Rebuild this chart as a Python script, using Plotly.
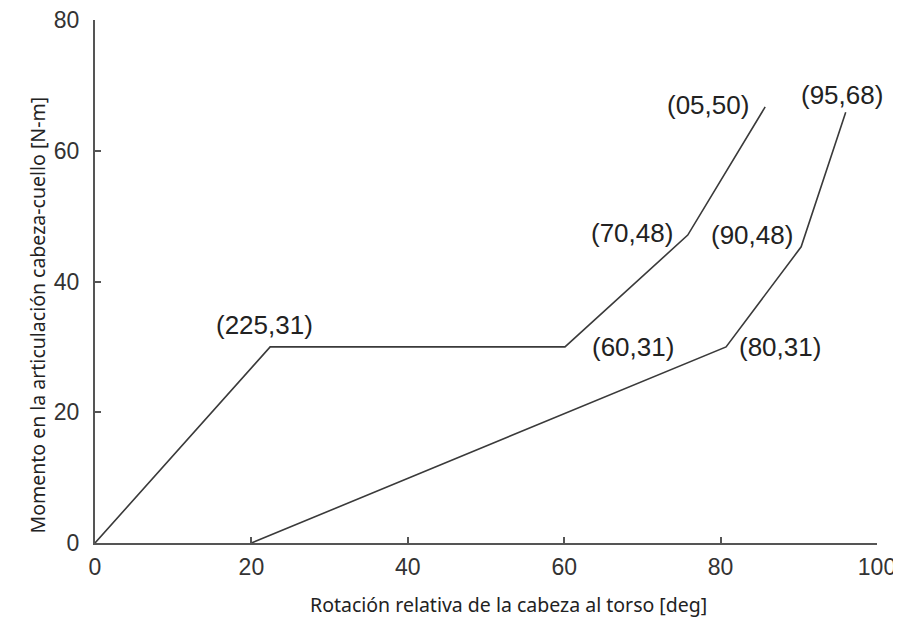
import plotly.graph_objects as go

# Curve A (upper/left)
rot_a = [0, 22.4, 60.1, 75.8, 85.7]
mom_a = [0, 30.0, 30.0, 47.1, 66.7]
# Curve B (lower/right)
rot_b = [20, 80.7, 90.3, 96.0]
mom_b = [0, 30.0, 45.3, 65.9]

# Point labels
lab_text = ["(225,31)", "(05,50)", "(95,68)", "(70,48)", "(90,48)", "(60,31)", "(80,31)"]
lab_x = [21.7, 78.4, 95.5, 68.7, 84.0, 68.8, 87.6]
lab_y = [33.3, 67.0, 68.5, 47.4, 47.1, 30.0, 30.0]

x_ticks = [0, 20, 40, 60, 80, 100]
y_ticks = [0, 20, 40, 60, 80]

line_col = "#3a3a3a"
num_font = "Liberation Sans, Arial, sans-serif"
title_font = "Noto Sans, DejaVu Sans"

fig = go.Figure()
fig.add_trace(go.Scatter(x=rot_a, y=mom_a, mode="lines",
                         line=dict(color=line_col, width=1.6), showlegend=False))
fig.add_trace(go.Scatter(x=rot_b, y=mom_b, mode="lines",
                         line=dict(color=line_col, width=1.6), showlegend=False))

for t, x, y in zip(lab_text, lab_x, lab_y):
    fig.add_annotation(x=x, y=y, text=t, showarrow=False,
                       font=dict(family=num_font, size=26, color="#222"))

fig.add_annotation(xref="paper", yref="paper", x=0.529, y=-0.1185, yanchor="middle",
                   text="Rotación relativa de la cabeza al torso [deg]",
                   showarrow=False,
                   font=dict(family=title_font, size=19.5, color="#222"))
fig.add_annotation(xref="paper", yref="paper", x=-0.0933, y=0.436, textangle=-90,
                   text="Momento en la articulación cabeza-cuello [N-m]",
                   showarrow=False,
                   font=dict(family=title_font, size=19.5, color="#222"))

# The page body has an 8px default margin, so the figure is offset by 8px
fig.update_layout(
    width=901, height=622,
    margin=dict(l=87, r=32, t=12, b=87),
    plot_bgcolor="white", paper_bgcolor="white",
    xaxis=dict(range=[0, 100], tickvals=x_ticks, showgrid=False, zeroline=False,
               showline=True, linecolor="#555", linewidth=2, automargin=False,
               ticks="inside", ticklen=6, tickcolor="#555", tickwidth=1.5,
               ticklabeloverflow="allow", ticklabelstandoff=2,
               tickfont=dict(family=num_font, size=23, color="#333")),
    yaxis=dict(range=[0, 80], tickvals=y_ticks, showgrid=False, zeroline=False,
               showline=True, linecolor="#555", linewidth=2, automargin=False,
               ticks="inside", ticklen=6, tickcolor="#555", tickwidth=1.5,
               ticklabelstandoff=9, ticklabeloverflow="allow",
               tickfont=dict(family=num_font, size=23, color="#333")),
)
fig.write_html("out.html")
